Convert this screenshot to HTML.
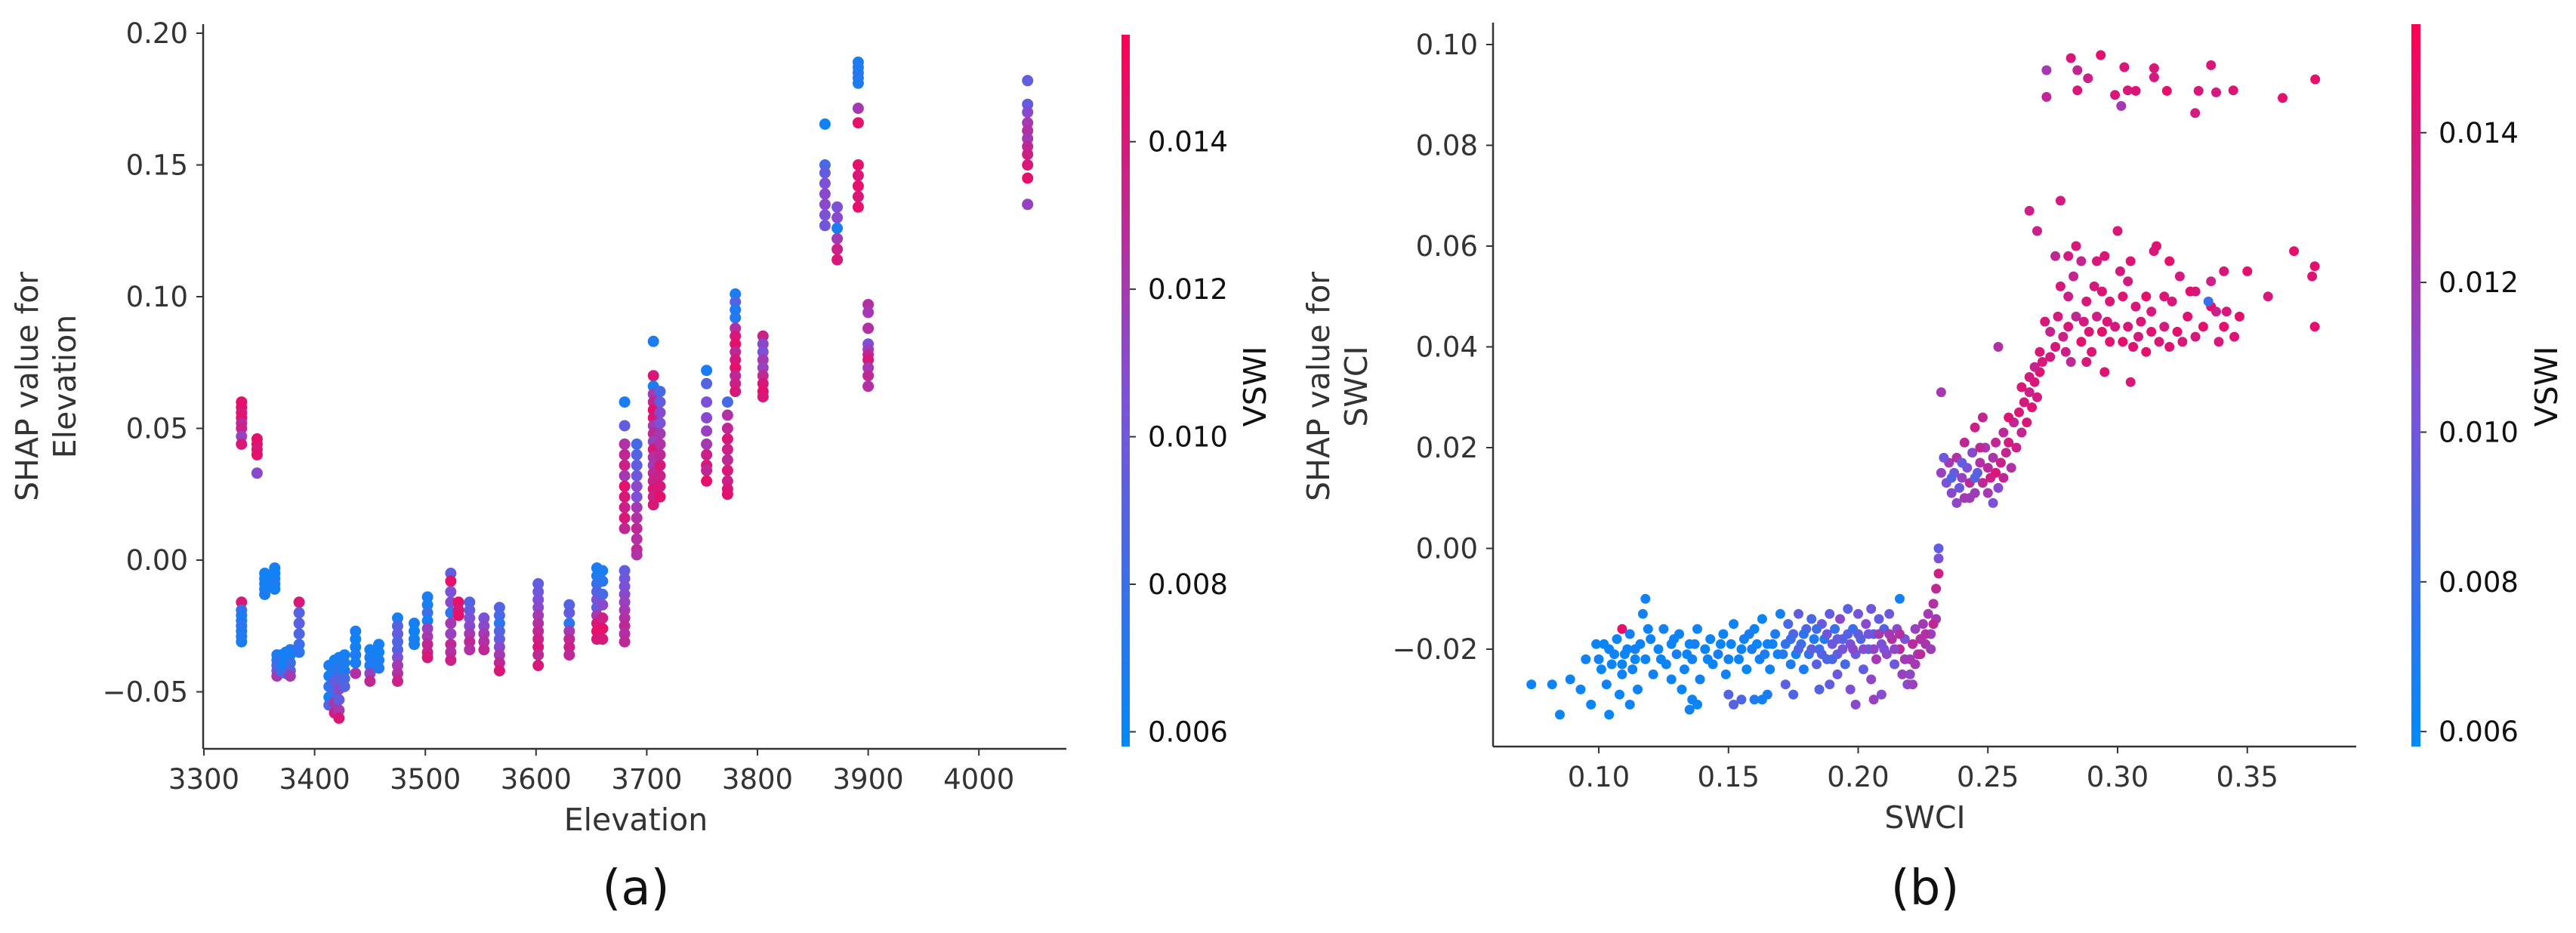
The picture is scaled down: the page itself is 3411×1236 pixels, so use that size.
<!DOCTYPE html>
<html><head><meta charset="utf-8">
<style>
html,body{margin:0;padding:0;background:#fff;}
svg{display:block;}
text{font-family:"DejaVu Sans","Liberation Sans",sans-serif;}
</style></head>
<body>
<svg id="fig" xmlns="http://www.w3.org/2000/svg" width="3411" height="1236" viewBox="0 0 3411 1236">
<defs>
<linearGradient id="cbgrad" x1="0" y1="1" x2="0" y2="0">
<stop offset="0" stop-color="rgb(0,138,250)"/>
<stop offset="0.5" stop-color="rgb(128,80,215)"/>
<stop offset="1" stop-color="rgb(255,0,82)"/>
</linearGradient>
</defs>
<g id="panelA"></g>
<g id="panelB"></g>
</svg>
<script>
// ---------- Panel (a) data: [elevation, shap, vswi] ----------
const elevA = [];
const shapA = [];
const vswiA = [];
const colsA = [
 [3334,[.060,.058,.056,.054,.052,.050,.047,.044,-.016,-.019,-.021,-.023,-.025,-.027,-.029,-.031],[.0145,.0145,.014,.0145,.013,.0135,.0115,.014,.014,.008,.007,.007,.0075,.007,.0072,.0068]],
 [3348,[.046,.044,.042,.040,.033],[.0145,.0145,.014,.0145,.011]],
 [3355,[-.005,-.007,-.009,-.011,-.013],[.0065,.0064,.0066,.0065,.0068]],
 [3364,[-.003,-.005,-.007,-.009,-.011],[.0068,.0066,.0065,.007,.0066]],
 [3366,[-.036,-.038,-.040,-.042,-.044],[.0072,.0068,.0085,.0095,.012]],
 [3370,[-.036,-.038,-.040,-.042],[.0065,.008,.0068,.0075]],
 [3374,[-.035,-.037,-.040,-.043],[.0066,.0064,.0062,.0085]],
 [3378,[-.034,-.036,-.039,-.042,-.044],[.0072,.0065,.008,.009,.012]],
 [3386,[-.016,-.020,-.024,-.028,-.032,-.035],[.014,.009,.0092,.0088,.008,.0075]],
 [3413,[-.040,-.044,-.048,-.052,-.055],[.0068,.0066,.0075,.0065,.009]],
 [3418,[-.038,-.042,-.046,-.050,-.054,-.058],[.0066,.0072,.0095,.0085,.012,.0135]],
 [3422,[-.037,-.041,-.045,-.049,-.053,-.057,-.060],[.0068,.0075,.009,.011,.0095,.012,.014]],
 [3427,[-.036,-.039,-.042,-.045,-.048],[.0066,.007,.0068,.0085,.009]],
 [3437,[-.027,-.030,-.033,-.036,-.039,-.043],[.0068,.0065,.0066,.007,.0068,.0125]],
 [3450,[-.034,-.037,-.040,-.043,-.046],[.0066,.0068,.007,.0115,.013]],
 [3458,[-.032,-.035,-.038,-.041],[.0066,.0065,.0068,.007]],
 [3475,[-.022,-.025,-.028,-.031,-.034,-.037,-.040,-.043,-.046],[.0066,.009,.0095,.0088,.009,.0105,.012,.0125,.0135]],
 [3490,[-.024,-.027,-.030,-.032],[.0066,.0064,.0065,.0068]],
 [3502,[-.014,-.017,-.020,-.023,-.026,-.029,-.032,-.035,-.037],[.0068,.0066,.008,.0065,.0115,.012,.013,.0135,.014]],
 [3523,[-.005,-.008,-.012,-.016,-.020,-.024,-.028,-.032,-.035,-.038],[.0095,.0145,.0105,.011,.0075,.012,.0115,.013,.0125,.0135]],
 [3530,[-.016,-.019,-.021],[.0145,.014,.0145]],
 [3540,[-.016,-.019,-.022,-.025,-.028,-.031,-.034],[.009,.0095,.0105,.011,.012,.013,.0125]],
 [3553,[-.022,-.025,-.028,-.031,-.034],[.0105,.011,.012,.0125,.013]],
 [3567,[-.018,-.021,-.024,-.027,-.030,-.033,-.036,-.039,-.042],[.009,.0085,.0075,.009,.0095,.011,.012,.013,.014]],
 [3602,[-.009,-.012,-.015,-.018,-.021,-.024,-.027,-.030,-.033,-.036,-.040],[.0095,.01,.0105,.011,.012,.0125,.013,.0135,.014,.013,.014]],
 [3630,[-.017,-.020,-.024,-.027,-.030,-.033,-.036],[.009,.0095,.0075,.012,.013,.0135,.013]],
 [3655,[-.003,-.006,-.009,-.012,-.015,-.018,-.021,-.024,-.027,-.030],[.007,.0068,.008,.009,.0105,.0095,.012,.014,.0145,.014]],
 [3660,[-.004,-.008,-.013,-.017,-.022,-.026,-.030],[.0068,.0075,.0085,.011,.0135,.0145,.014]],
 [3680,[-.004,-.007,-.010,-.013,-.016,-.019,-.022,-.025,-.028,-.031,.060,.051,.044,.040,.036,.032,.028,.024,.020,.016,.012],[.0095,.01,.0105,.011,.0115,.012,.0125,.013,.0125,.013,.0068,.0095,.0125,.013,.0135,.012,.0145,.014,.0135,.014,.013]],
 [3691,[.044,.040,.036,.032,.028,.024,.020,.016,.012,.008,.004,.002],[.0085,.009,.0095,.01,.011,.0105,.012,.0125,.013,.0125,.013,.0125]],
 [3706,[.083,.070,.066,.063,.060,.057,.054,.051,.048,.045,.042,.039,.036,.033,.030,.027,.024,.021],[.0068,.014,.0068,.012,.013,.0145,.014,.012,.013,.0115,.014,.0125,.012,.013,.0135,.014,.0135,.014]],
 [3712,[.064,.060,.056,.052,.048,.044,.040,.036,.032,.028,.024],[.0085,.0095,.011,.0105,.012,.0125,.013,.014,.0135,.014,.0145]],
 [3754,[.072,.067,.060,.054,.049,.044,.040,.036,.034,.030],[.0068,.009,.0105,.011,.0115,.012,.0135,.014,.013,.0145]],
 [3773,[.060,.055,.050,.046,.042,.038,.034,.030,.027,.025],[.0085,.0125,.013,.014,.0135,.013,.014,.0135,.014,.0145]],
 [3780,[.101,.098,.095,.092,.088,.085,.082,.079,.076,.073,.070,.067,.064],[.0068,.009,.007,.0072,.0125,.014,.0145,.013,.014,.0145,.013,.0135,.014]],
 [3805,[.085,.082,.079,.076,.073,.070,.067,.064,.062],[.0135,.011,.0105,.012,.0115,.013,.014,.0145,.014]],
 [3861,[.1655,.150,.147,.143,.139,.135,.131,.127],[.0065,.0085,.0095,.0105,.011,.011,.0105,.01]],
 [3872,[.134,.130,.126,.122,.118,.114],[.0105,.011,.0068,.012,.0135,.014]],
 [3891,[.189,.187,.185,.183,.181,.1715,.166,.150,.146,.142,.138,.134],[.0068,.0072,.007,.0075,.007,.012,.0145,.0145,.014,.0145,.014,.0145]],
 [3900,[.097,.094,.088,.082,.080,.078,.076,.073,.070,.066],[.0125,.012,.0125,.0105,.0115,.013,.014,.012,.013,.0125]],
 [4044,[.182,.173,.170,.166,.163,.160,.157,.154,.150,.145,.135],[.0095,.0095,.011,.012,.0125,.012,.013,.0135,.014,.0145,.0115]]
];
colsA.forEach(c => c[1].forEach((v,i) => { elevA.push(c[0]); shapA.push(v); vswiA.push(c[2][i]); }));
const xTicksA = [3300,3400,3500,3600,3700,3800,3900,4000];
const yTicksA = [-0.05,0.00,0.05,0.10,0.15,0.20];
const yTickLabelsA = ["\u22120.05","0.00","0.05","0.10","0.15","0.20"];

// ---------- Panel (b) data: [swci, shap, vswi] ----------
const ptsB = [
[0.074,-0.027,.0062],[0.082,-0.027,.0063],[0.085,-0.033,.0062],[0.089,-0.026,.0064],[0.093,-0.028,.0062],[0.095,-0.022,.0065],[0.097,-0.031,.0062],[0.099,-0.019,.0063],[0.101,-0.024,.0062],[0.103,-0.027,.0064],[0.104,-0.033,.0062],[0.106,-0.021,.0063],[0.108,-0.029,.0062],[0.109,-0.025,.0064],[0.111,-0.020,.0062],[0.112,-0.031,.0063],[0.114,-0.022,.0062],[0.115,-0.028,.0064],[0.117,-0.013,.0066],[0.118,-0.010,.0064],[0.109,-0.016,.0145],
[0.100,-0.022,.0065],[0.102,-0.019,.0062],[0.105,-0.023,.0064],[0.107,-0.018,.0063],[0.110,-0.021,.0062],[0.112,-0.017,.0066],[0.113,-0.024,.0063],[0.116,-0.019,.0062],[0.118,-0.022,.0064],[0.120,-0.018,.0063],[0.121,-0.025,.0065],[0.123,-0.020,.0062],[0.125,-0.016,.0066],[0.126,-0.023,.0063],[0.128,-0.019,.0062],[0.130,-0.021,.0068],[0.131,-0.017,.0063],[0.133,-0.024,.0064],[0.135,-0.019,.0062],[0.136,-0.022,.0066],[0.138,-0.016,.0063],[0.139,-0.026,.0065],[0.141,-0.020,.0062],[0.143,-0.018,.0064],[0.144,-0.023,.0062],[0.146,-0.021,.0067],[0.148,-0.017,.0063],[0.149,-0.025,.0065],[0.151,-0.019,.0062],[0.152,-0.015,.0064],[0.154,-0.022,.0063],[0.156,-0.018,.0066],[0.157,-0.024,.0062],[0.159,-0.020,.0068],[0.160,-0.016,.0063],[0.162,-0.022,.0065],[0.163,-0.014,.0062],[0.165,-0.019,.0066],[0.166,-0.024,.0064],[0.168,-0.017,.0070],[0.169,-0.021,.0063],[0.170,-0.013,.0066],[0.172,-0.019,.0075],[0.173,-0.015,.0085],[0.174,-0.023,.0070],[0.175,-0.017,.0090],[0.176,-0.021,.0065],[0.177,-0.013,.0095],[0.178,-0.019,.0080],[0.179,-0.024,.0068],[0.180,-0.016,.0090],[0.181,-0.021,.0075],[0.182,-0.014,.0085],[0.183,-0.018,.0070],[0.184,-0.023,.0092],[0.185,-0.020,.0080],[0.186,-0.015,.0098],[0.187,-0.018,.0072],[0.188,-0.022,.0088],[0.189,-0.013,.0095],[0.190,-0.019,.0100],[0.191,-0.016,.0078],[0.192,-0.021,.0095],[0.193,-0.014,.0110],[0.194,-0.018,.0090],[0.195,-0.023,.0085],[0.196,-0.012,.0092],[0.197,-0.019,.0105],[0.198,-0.016,.0080],[0.199,-0.021,.0098],[0.200,-0.013,.0102],[0.201,-0.018,.0088],[0.202,-0.024,.0095],[0.203,-0.015,.0110],[0.204,-0.020,.0085],[0.205,-0.012,.0100],[0.206,-0.017,.0092],[0.207,-0.022,.0120],[0.208,-0.014,.0095],[0.209,-0.019,.0105],[0.210,-0.016,.0090],[0.211,-0.021,.0112],[0.212,-0.013,.0100],[0.213,-0.018,.0125],[0.214,-0.023,.0098],[0.215,-0.016,.0110],[0.216,-0.020,.0130],[0.217,-0.025,.0115],[0.218,-0.018,.0105],[0.219,-0.027,.0110],[0.220,-0.022,.0120],[0.221,-0.019,.0128],[0.222,-0.016,.0115],[0.223,-0.021,.0120],[0.224,-0.018,.0125],[0.225,-0.015,.0118],[0.226,-0.019,.0122],[0.227,-0.013,.0120],[0.228,-0.017,.0115],[0.229,-0.011,.0125],[0.230,-0.014,.0118],[0.230,-0.008,.0130],[0.231,-0.005,.0135],[0.231,-0.002,.0105],[0.231,0.000,.0095],
[0.104,-0.020,.0063],[0.109,-0.023,.0062],[0.114,-0.020,.0065],[0.119,-0.016,.0063],[0.124,-0.022,.0062],[0.129,-0.018,.0064],[0.134,-0.021,.0062],[0.137,-0.019,.0066],[0.142,-0.022,.0063],[0.147,-0.019,.0062],[0.150,-0.022,.0065],[0.155,-0.020,.0063],[0.158,-0.017,.0068],[0.161,-0.019,.0062],[0.164,-0.021,.0070],[0.167,-0.019,.0064],[0.171,-0.021,.0072],[0.174,-0.018,.0080],[0.177,-0.020,.0088],[0.179,-0.017,.0076],[0.182,-0.020,.0094],[0.184,-0.016,.0082],[0.186,-0.021,.0090],[0.188,-0.017,.0100],[0.190,-0.022,.0086],[0.192,-0.018,.0096],[0.194,-0.020,.0104],[0.196,-0.017,.0090],[0.198,-0.020,.0110],[0.200,-0.017,.0095],[0.202,-0.020,.0108],[0.204,-0.017,.0100],[0.206,-0.020,.0112],[0.208,-0.017,.0118],[0.210,-0.020,.0105],[0.212,-0.017,.0120],[0.214,-0.020,.0112],[0.216,-0.017,.0125],[0.218,-0.022,.0118],[0.220,-0.025,.0112],[0.222,-0.023,.0120],[0.224,-0.021,.0128],[0.226,-0.017,.0125],[0.228,-0.020,.0118],[0.229,-0.015,.0130],
[0.128,-0.026,.0063],[0.132,-0.028,.0062],[0.136,-0.030,.0064],[0.138,-0.031,.0062],[0.135,-0.032,.0065],[0.150,-0.029,.0090],[0.152,-0.031,.0092],[0.155,-0.030,.0088],[0.160,-0.030,.0070],[0.163,-0.030,.0065],[0.165,-0.029,.0068],[0.172,-0.027,.0092],[0.175,-0.029,.0088],[0.185,-0.028,.0090],[0.189,-0.027,.0095],[0.192,-0.025,.0098],[0.197,-0.028,.0105],[0.199,-0.031,.0110],[0.205,-0.026,.0112],[0.206,-0.030,.0115],[0.209,-0.029,.0108],[0.221,-0.027,.0115],[0.216,-0.010,.0065],
[.232,.015,.0115],[.234,.013,.0105],[.235,.017,.0120],[.236,.011,.0110],[.237,.015,.0100],[.238,.018,.0125],[.239,.012,.0098],[.240,.014,.0115],[.241,.010,.0120],[.242,.016,.0105],[.243,.013,.0128],[.244,.019,.0110],[.245,.011,.0118],[.246,.015,.0095],[.247,.017,.0125],[.248,.013,.0130],[.249,.020,.0120],[.250,.016,.0128],[.251,.014,.0135],[.252,.018,.0122],[.253,.021,.0130],[.254,.012,.0110],[.255,.017,.0135],[.256,.023,.0128],[.257,.019,.0132],[.258,.021,.0138],[.259,.016,.0125],[.260,.025,.0130],[.261,.020,.0135],[.262,.027,.0140],[.263,.023,.0132],[.264,.029,.0138],[.265,.025,.0140],[.266,.031,.0135],[.267,.028,.0142],[.268,.033,.0140],[.269,.030,.0138],[.270,.035,.0142],[.271,.037,.0140],[.233,.018,.0100],[.236,.014,.0090],[.238,.009,.0112],[.240,.017,.0095],[.243,.010,.0118],[.245,.014,.0090],[.247,.020,.0130],[.250,.011,.0120],[.252,.009,.0105],[.253,.015,.0140],[.256,.014,.0130],[.258,.026,.0142],[.248,.026,.0132],[.245,.024,.0135],[.232,.031,.0120],[.254,.040,.0125],[.241,.021,.0130],
[.266,.067,.0135],[.278,.069,.0138],[.269,.063,.0135],[.276,.058,.0130],[.281,.058,.0138],[.284,.060,.0140],[.286,.057,.0132],[.292,.057,.0140],[.295,.058,.0142],[.300,.063,.0140],[.301,.055,.0138],[.305,.057,.0142],[.314,.059,.0140],[.315,.060,.0142],[.320,.057,.0145],[.324,.054,.0138],[.336,.053,.0135],[.341,.055,.0140],[.350,.055,.0145],[.368,.059,.0145],[.376,.056,.0145],[.375,.054,.0142],[.358,.050,.0140],[.376,.044,.0145],
[.278,.052,.0140],[.281,.050,.0135],[.283,.054,.0132],[.288,.049,.0140],[.291,.052,.0138],[.294,.051,.0142],[.297,.049,.0140],[.302,.050,.0142],[.304,.053,.0138],[.307,.048,.0140],[.311,.050,.0145],[.313,.047,.0138],[.318,.050,.0142],[.321,.049,.0140],[.328,.051,.0145],[.330,.051,.0140],[.336,.048,.0145],[.338,.047,.0135],[.342,.047,.0140],[.347,.046,.0145],[.335,.049,.0080],
[.272,.045,.0140],[.274,.043,.0132],[.277,.046,.0138],[.279,.042,.0135],[.281,.044,.0140],[.284,.046,.0130],[.286,.041,.0145],[.287,.045,.0138],[.289,.043,.0140],[.290,.039,.0142],[.292,.046,.0135],[.294,.043,.0145],[.296,.045,.0140],[.297,.041,.0142],[.299,.044,.0138],[.302,.041,.0145],[.304,.044,.0140],[.306,.040,.0142],[.308,.042,.0138],[.309,.045,.0140],[.311,.039,.0145],[.313,.043,.0142],[.316,.041,.0140],[.318,.044,.0138],[.320,.040,.0142],[.323,.043,.0145],[.325,.041,.0140],[.327,.046,.0142],[.330,.042,.0138],[.333,.044,.0145],[.339,.041,.0140],[.341,.044,.0145],[.345,.042,.0142],[.288,.037,.0140],[.295,.035,.0142],[.305,.033,.0140],[.282,.037,.0130],[.280,.039,.0135],[.276,.040,.0140],[.274,.038,.0138],[.270,.039,.0140],[.268,.036,.0132],[.266,.034,.0138],[.263,.032,.0140],
[.2726,.0949,.0120],[.2726,.0896,.0130],[.282,.0973,.0140],[.2845,.0949,.0130],[.2845,.0909,.0140],[.2886,.0933,.0135],[.2935,.0979,.0145],[.299,.090,.0140],[.3026,.0955,.0140],[.3014,.0878,.0120],[.3039,.0909,.0140],[.307,.0908,.0142],[.3141,.0953,.0140],[.3141,.0935,.0138],[.319,.0908,.0145],[.3299,.0864,.0138],[.3312,.0908,.0140],[.336,.0959,.0140],[.338,.0905,.0138],[.3446,.0909,.0142],[.3636,.0894,.0145],[.3762,.0931,.0145]
];
const swciB = ptsB.map(p=>p[0]);
const shapB = ptsB.map(p=>p[1]);
const vswiB = ptsB.map(p=>p[2]);
const xTicksB = [0.10,0.15,0.20,0.25,0.30,0.35];
const yTicksB = [-0.02,0.00,0.02,0.04,0.06,0.08,0.10];
const yTickLabelsB = ["\u22120.02","0.00","0.02","0.04","0.06","0.08","0.10"];
const cbTicks = [0.006,0.008,0.010,0.012,0.014];

const NS = "http://www.w3.org/2000/svg";
function mk(tag, attrs, parent){ const e=document.createElementNS(NS,tag); for(const k in attrs) e.setAttribute(k,attrs[k]); parent.appendChild(e); return e; }
function colorOf(c){
  let t=(c-0.0058)/(0.01545-0.0058); t=Math.max(0,Math.min(1,t));
  const a=[0,138,250], m=[128,80,215], b=[255,0,82];
  let r,g,bl;
  if(t<0.5){const u=t/0.5; r=a[0]+(m[0]-a[0])*u; g=a[1]+(m[1]-a[1])*u; bl=a[2]+(m[2]-a[2])*u;}
  else {const u=(t-0.5)/0.5; r=m[0]+(b[0]-m[0])*u; g=m[1]+(b[1]-m[1])*u; bl=m[2]+(b[2]-m[2])*u;}
  return `rgb(${r|0},${g|0},${bl|0})`;
}

function drawPanel(g, cfg){
  const pg = mk('g',{},g);
  
  
  cfg.xs.forEach((xv,i)=>{
    const c = mk('circle',{cx:cfg.xf(xv).toFixed(1),cy:cfg.yf(cfg.ys[i]).toFixed(1),r:cfg.r,fill:colorOf(cfg.cs[i])},pg);
    
    
  });
  const sp1 = mk('line',{x1:cfg.L,y1:cfg.T,x2:cfg.L,y2:cfg.B,stroke:'#333',"stroke-width":2.5},g);
   
  const sp2 = mk('line',{x1:cfg.L,y1:cfg.B,x2:cfg.R,y2:cfg.B,stroke:'#333',"stroke-width":2.5},g);
   
  cfg.xt.forEach((t,i)=>{
    const x=cfg.xf(t);
    mk('line',{x1:x,y1:cfg.B,x2:x,y2:cfg.B+9,stroke:'#333',"stroke-width":2},g);
    const tx=mk('text',{x:x,y:cfg.B+53,"font-size":37,fill:'#333',"text-anchor":'middle'},g);
    tx.textContent=cfg.xl[i];
     
  });
  cfg.yt.forEach((t,i)=>{
    const y=cfg.yf(t);
    mk('line',{x1:cfg.L-9,y1:y,x2:cfg.L,y2:y,stroke:'#333',"stroke-width":2},g);
    const tx=mk('text',{x:cfg.L-20,y:y+13,"font-size":37,fill:'#333',"text-anchor":'end'},g);
    tx.textContent=cfg.yl[i];
     
  });
  const xt=mk('text',{x:cfg.xlabX,y:cfg.B+108,"font-size":41,fill:'#333',"text-anchor":'middle'},g);
  xt.textContent=cfg.xlabel;
   
  const yt=mk('text',{transform:`translate(${cfg.ylabX},512) rotate(-90)`,"font-size":41,fill:'#333',"text-anchor":'middle'},g);
   
  const t1=mk('tspan',{x:0,y:0},yt); t1.textContent='SHAP value for';
  const t2=mk('tspan',{x:0,y:50},yt); t2.textContent=cfg.xlabel;
  const cap=mk('text',{x:cfg.xlabX,y:1198,"font-size":64,fill:'#111',"text-anchor":'middle'},g);
  cap.textContent=cfg.caption;
   
  const cb=mk('rect',{x:cfg.cbX,y:cfg.cbT,width:cfg.cbW,height:cfg.cbB-cfg.cbT,fill:'url(#cbgrad)'},g);
   
  const cf = v => cfg.cbB - (v-0.0058)/(0.01545-0.0058)*(cfg.cbB-cfg.cbT);
  cbTicks.forEach(t=>{
    const y=cf(t);
    mk('line',{x1:cfg.cbX+cfg.cbW,y1:y,x2:cfg.cbX+cfg.cbW+8,y2:y,stroke:'#333',"stroke-width":2},g);
    const tx=mk('text',{x:cfg.cbX+cfg.cbW+24,y:y+13,"font-size":37,fill:'#111'},g);
    tx.textContent=t.toFixed(3);
     
  });
  const cl=mk('text',{transform:`translate(${cfg.cbLabX},512) rotate(-90)`,"font-size":41,fill:'#111',"text-anchor":'middle'},g);
  cl.textContent='VSWI';
   
}

const xfA = e => 270 + (e-3300)*1.466;
const yfA = v => 742 - v*3490;
drawPanel(document.getElementById('panelA'),{
  xs:elevA, ys:shapA, cs:vswiA, xf:xfA, yf:yfA, r:7.5,
  L:269, R:1412, T:32, B:992,
  xt:xTicksA, xl:xTicksA.map(String), yt:yTicksA, yl:yTickLabelsA,
  xlabel:'Elevation', xlabX:842, ylabX:50, caption:'(a)',
  cbX:1485, cbW:11, cbT:46, cbB:989, cbLabX:1676
});
const xfB = s => 2117 + (s-0.10)*3435;
const yfB = v => 726.5 - v*6675;
drawPanel(document.getElementById('panelB'),{
  xs:swciB, ys:shapB, cs:vswiB, xf:xfB, yf:yfB, r:6.5,
  L:1977, R:3120, T:30, B:989,
  xt:xTicksB, xl:xTicksB.map(v=>v.toFixed(2)), yt:yTicksB, yl:yTickLabelsB,
  xlabel:'SWCI', xlabX:2549, ylabX:1760, caption:'(b)',
  cbX:3193, cbW:12, cbT:32, cbB:989, cbLabX:3386
});
</script>
</body></html>
